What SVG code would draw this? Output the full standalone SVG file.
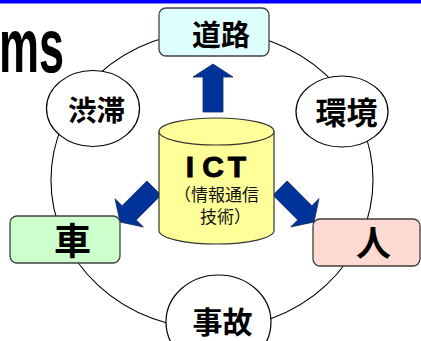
<svg xmlns="http://www.w3.org/2000/svg" width="421" height="341" viewBox="0 0 421 341">
<style>
.box{stroke:#404040;stroke-width:1.3}
.ell{fill:#fff;stroke:#000;stroke-width:1.2}
.jp{font-family:"Noto Sans CJK JP","Noto Sans CJK SC",sans-serif;font-weight:bold;fill:#000;text-anchor:middle}
.sub{font-family:"Noto Sans CJK JP","Noto Sans CJK SC",sans-serif;font-size:17px;fill:#111}
.ict{font-family:"Liberation Sans",Arial,sans-serif;font-weight:bold;font-size:30px;text-anchor:middle;fill:#000;stroke:#000;stroke-width:0.9}
.arrow{fill:#003399;stroke:#1a2a5a;stroke-width:0.8}
</style>
<defs>
<path id="arr" d="M0,0 L20,13 L10,13 L10,48 L-10,48 L-10,13 L-20,13 Z"/>
</defs>
<rect x="0" y="0" width="421" height="3.5" fill="#0000FF"/>
<text x="-1" y="72" font-family="Liberation Sans, Arial, sans-serif" font-weight="bold" font-size="76" textLength="65" lengthAdjust="spacingAndGlyphs">ms</text>
<g id="connectors">
<ellipse cx="212" cy="180" rx="161" ry="149" fill="none" stroke="#000" stroke-width="1.1"/>
<use href="#arr" class="arrow" transform="translate(213,64)"/>
<use href="#arr" class="arrow" transform="translate(120,222) rotate(-135)"/>
<use href="#arr" class="arrow" transform="translate(314,222) rotate(135)"/>
</g>
<g id="road">
<rect class="box" x="159" y="8" width="110" height="48" rx="7" fill="#DFFFFF"/>
<text class="jp" x="221" y="46" font-size="29">道路</text>
</g>
<g id="jam">
<ellipse class="ell" cx="93" cy="108.5" rx="46.5" ry="38"/>
<text class="jp" x="96.5" y="121" font-size="28.5">渋滞</text>
</g>
<g id="env">
<ellipse class="ell" cx="342" cy="111.5" rx="46" ry="35.5"/>
<text class="jp" x="346.5" y="124" font-size="31">環境</text>
</g>
<g id="car">
<rect class="box" x="10" y="216" width="110" height="47" rx="7" fill="#CCFFCC"/>
<text class="jp" x="72.5" y="255" font-size="37">車</text>
</g>
<g id="person">
<rect class="box" x="313" y="219" width="107" height="47" rx="7" fill="#FFDAD2"/>
<text class="jp" x="373.5" y="255.5" font-size="35">人</text>
</g>
<g id="accident">
<ellipse class="ell" cx="218.5" cy="322" rx="52.5" ry="47"/>
<text class="jp" x="222.5" y="333" font-size="30">事故</text>
</g>
<g id="ict">
<path d="M159,131.5 L159,230.5 A57.5,13.5 0 0 0 274,230.5 L274,131.5 Z" fill="#FFFF99" stroke="#333" stroke-width="1.2"/>
<ellipse cx="216.5" cy="131.5" rx="57.5" ry="13.5" fill="#FFFF99" stroke="#333" stroke-width="1.2"/>
<text class="ict" x="190" y="177">I</text>
<text class="ict" x="213" y="177">C</text>
<text class="ict" x="237" y="177">T</text>
<text class="sub" x="174" y="201">（情報通信</text>
<text class="sub" x="200" y="222.5">技術）</text>
</g>
</svg>
